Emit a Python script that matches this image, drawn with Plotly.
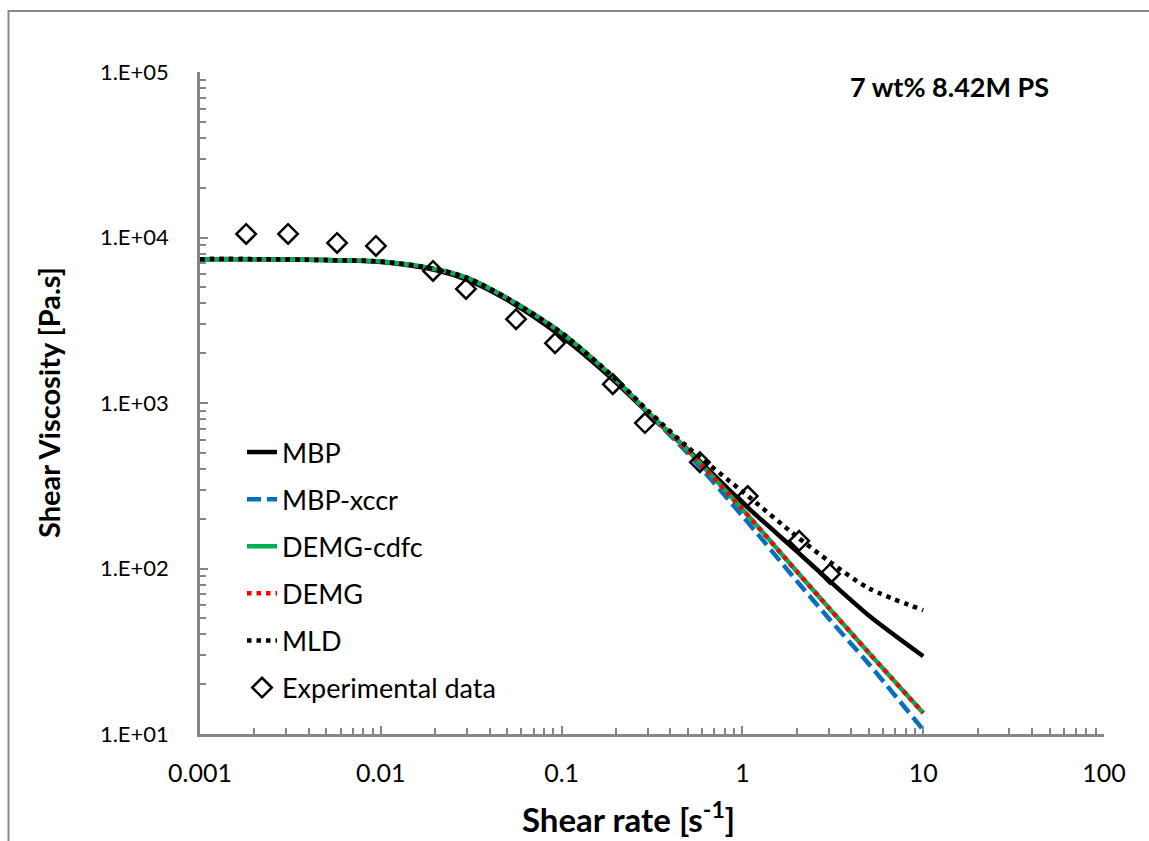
import plotly.graph_objects as go

# ---- data ----
shear_model = [0.001, 0.002, 0.005, 0.01, 0.02, 0.03, 0.05, 0.1, 0.2, 0.3, 0.5, 1, 2, 3, 5, 10]
mbp       = [7400, 7400, 7300, 7100, 6350, 5550, 4200, 2520, 1330, 870, 520, 250, 127, 85, 52, 29.5]
mbp_xccr  = [7400, 7400, 7300, 7150, 6450, 5700, 4300, 2650, 1370, 870, 495, 208, 84, 50, 26.5, 10.6]
demg_cdfc = [7400, 7400, 7300, 7150, 6450, 5700, 4300, 2650, 1380, 880, 515, 228, 96, 58, 31, 13.4]
demg      = [7400, 7400, 7300, 7150, 6450, 5700, 4300, 2650, 1380, 880, 515, 228, 96, 58, 31, 13.4]
mld       = [7400, 7400, 7300, 7150, 6450, 5700, 4300, 2650, 1390, 900, 540, 292, 156, 111, 76, 56]

shear_exp = [0.0018, 0.00307, 0.00573, 0.0094, 0.01945, 0.0296, 0.056, 0.092, 0.192, 0.289, 0.582, 1.07, 2.06, 3.05]
visc_exp  = [10500, 10500, 9270, 8890, 6280, 4890, 3210, 2300, 1300, 757, 439, 274, 147, 92.7]

x_tickvals = [0.001, 0.01, 0.1, 1, 10, 100]
x_ticktext = ["0.001", "0.01", "0.1", "1", "10", "100"]
y_tickvals = [10, 100, 1000, 10000, 100000]
y_ticktext = ["1.E+01", "1.E+02", "1.E+03", "1.E+04", "1.E+05"]

series_names = ["MBP", "MBP-xccr", "DEMG-cdfc", "DEMG", "MLD"]

FONT = "Lato, 'Open Sans', sans-serif"
AXIS_GRAY = "#868686"

x_minor = [m * 10.0 ** k for k in range(-3, 2) for m in range(2, 10)]
y_minor = [m * 10.0 ** k for k in range(1, 5) for m in range(2, 10)]

fig = go.Figure()

styles = [
    dict(color="#000000", width=4.5, dash="solid"),
    dict(color="#0070C0", width=4.5, dash="14px,6px"),
    dict(color="#00B050", width=4.5, dash="solid"),
    dict(color="#FF0000", width=4.5, dash="4.5px,5px"),
    dict(color="#000000", width=4.5, dash="4.5px,5px"),
]
for name, vals, st in zip(series_names, [mbp, mbp_xccr, demg_cdfc, demg, mld], styles):
    fig.add_trace(go.Scatter(
        x=shear_model, y=vals, mode="lines", name=name, legendgroup=name,
        line=dict(shape="spline", smoothing=0.8, **st),
    ))

fig.add_trace(go.Scatter(
    x=shear_exp, y=visc_exp, mode="markers", name="Experimental data",
    legendgroup="exp",
    marker=dict(symbol="diamond-open", size=15, color="#000000",
                line=dict(width=2.5, color="#000000")),
))

fig.update_layout(
    width=1149, height=841,
    margin=dict(l=200, r=45, t=72, b=107),
    paper_bgcolor="white", plot_bgcolor="white",
    font=dict(family=FONT, color="#000000"),
    showlegend=True,
    legend=dict(
        x=(242 - 200) / 904, y=(734 - 428) / 662, xanchor="left", yanchor="top",
        bgcolor="rgba(0,0,0,0)", borderwidth=0,
        font=dict(family=FONT, size=27, color="#000000"),
        tracegroupgap=9,
    ),
    xaxis=dict(
        type="log", range=[-3, 2],
        tickmode="array", tickvals=x_tickvals, ticktext=x_ticktext,
        ticks="inside", ticklen=8, tickwidth=2, tickcolor=AXIS_GRAY,
        showline=True, linecolor=AXIS_GRAY, linewidth=2.5,
        showgrid=False, zeroline=False,
        tickfont=dict(family=FONT, size=25, color="#000000"),
        ticklabelstandoff=15,
        minor=dict(tickvals=x_minor, ticks="inside", ticklen=6, tickwidth=2,
                   tickcolor=AXIS_GRAY, showgrid=False),
    ),
    yaxis=dict(
        type="log", range=[1, 5],
        tickmode="array", tickvals=y_tickvals, ticktext=y_ticktext,
        ticks="inside", ticklen=8, tickwidth=2, tickcolor=AXIS_GRAY,
        showline=True, linecolor=AXIS_GRAY, linewidth=2.5,
        showgrid=False, zeroline=False,
        tickfont=dict(family=FONT, size=22, color="#000000"),
        ticklabelstandoff=24,
        minor=dict(tickvals=y_minor, ticks="inside", ticklen=6, tickwidth=2,
                   tickcolor=AXIS_GRAY, showgrid=False),
    ),
    annotations=[
        dict(text="<b>Shear Viscosity [Pa.s]</b>", textangle=-90,
             xref="paper", yref="paper", x=(48 - 200) / 904, y=(734 - 403) / 662,
             xanchor="center", yanchor="middle", showarrow=False,
             font=dict(family=FONT, size=29, color="#000000")),
        dict(text="<b>Shear rate [s<sup>-1</sup>]</b>",
             xref="paper", yref="paper", x=(628 - 200) / 904, y=(734 - 817) / 662,
             xanchor="center", yanchor="middle", showarrow=False,
             font=dict(family=FONT, size=33, color="#000000")),
        dict(text="<b>7 wt% 8.42M PS</b>",
             xref="paper", yref="paper", x=(949 - 200) / 904, y=(734 - 87) / 662,
             xanchor="center", yanchor="middle", showarrow=False,
             font=dict(family=FONT, size=27, color="#000000")),
    ],
    shapes=[
        dict(type="rect", xref="paper", yref="paper",
             x0=(8.5 - 200) / 904, x1=(1160 - 200) / 904,
             y0=(734 - 860) / 662, y1=(734 - 11) / 662,
             line=dict(color="#8a8a8a", width=2), fillcolor="rgba(0,0,0,0)",
             layer="below"),
    ],
)

fig.write_html("out.html")
